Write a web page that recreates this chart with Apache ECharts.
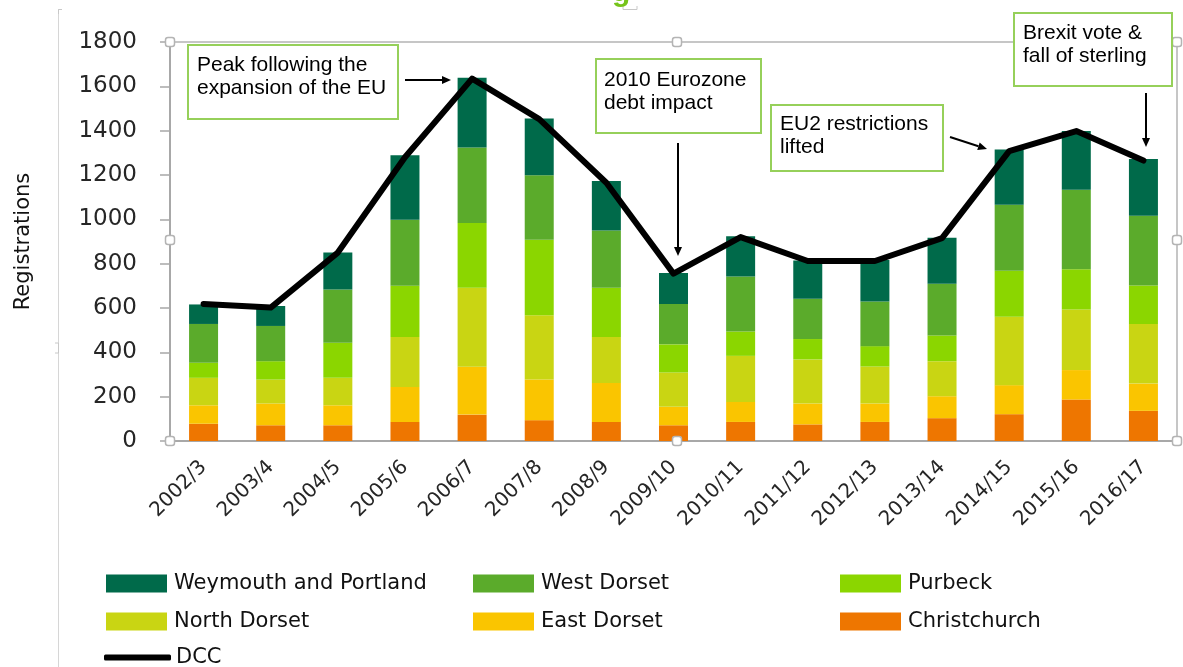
<!DOCTYPE html>
<html>
<head>
<meta charset="utf-8">
<script src="https://cdn.jsdelivr.net/npm/echarts@6/dist/echarts.min.js"></script>
<style>html,body{margin:0;padding:0;background:#fff;}#c{width:1183px;height:667px;}</style>
</head>
<body>
<div id="c"></div>
<script>
const categories = ['2002/3','2003/4','2004/5','2005/6','2006/7','2007/8','2008/9','2009/10','2010/11','2011/12','2012/13','2013/14','2014/15','2015/16','2016/17'];
const christchurch = [78, 71, 71, 86, 119, 94, 86, 71, 86, 75, 86, 103, 121, 187, 136];
const eastDorset   = [83, 98, 90, 158, 216, 183, 176, 83, 90, 94, 83, 99, 131, 133, 123];
const northDorset  = [124, 108, 124, 225, 356, 290, 207, 155, 208, 199, 167, 158, 308, 273, 269];
const purbeck      = [68, 83, 158, 231, 292, 341, 222, 127, 110, 92, 92, 116, 208, 182, 173];
const westDorset   = [175, 159, 241, 298, 341, 291, 259, 182, 248, 182, 201, 233, 298, 359, 315];
const weymouth     = [88, 90, 166, 291, 315, 256, 223, 140, 182, 172, 187, 208, 249, 265, 256];
const dcc          = [618, 602, 850, 1280, 1635, 1452, 1165, 755, 920, 812, 812, 915, 1308, 1398, 1265];
const yTicks = {min: 0, max: 1800, interval: 200};

const notes = [
  {lines: ['Peak following the', 'expansion of the EU']},
  {lines: ['2010 Eurozone', 'debt impact']},
  {lines: ['EU2 restrictions', 'lifted']},
  {lines: ['Brexit vote &', 'fall of sterling']}
];

const colors = {
  weymouth: '#006a4a', west: '#5bab2b', purbeck: '#8bd600',
  north: '#c9d513', east: '#fac500', christ: '#ee7600'
};

const chart = echarts.init(document.getElementById('c'), null, {renderer: 'canvas'});

const barBase = {type: 'bar', stack: 'total', barWidth: 29, emphasis: {disabled: true}};
const legText = {fontFamily: 'DejaVu Sans', fontSize: 21, color: '#111', padding: [0, 0, 0, 2]};

// annotation layout (boxes + arrows)
const boxLayout = [
  {x: 188, y: 45, w: 210, h: 74, tx: 197, ty: 54, a: [405, 80, 451, 80]},
  {x: 596, y: 59, w: 165, h: 74, tx: 604, ty: 69, a: [678, 143, 678, 256]},
  {x: 771, y: 105, w: 172, h: 66, tx: 780, ty: 113, a: [950, 137, 987, 149]},
  {x: 1014, y: 13, w: 158, h: 73, tx: 1023, ty: 22, a: [1146, 93, 1146, 147]}
];

function arrow(x1, y1, x2, y2) {
  const ang = Math.atan2(y2 - y1, x2 - x1);
  const L = 9, W = 4;
  const bx = x2 - L * Math.cos(ang), by = y2 - L * Math.sin(ang);
  const px = -Math.sin(ang) * W, py = Math.cos(ang) * W;
  return [
    {type: 'line', shape: {x1: x1, y1: y1, x2: bx, y2: by}, style: {stroke: '#000', lineWidth: 2}, z: 100},
    {type: 'polygon', shape: {points: [[x2, y2], [bx + px, by + py], [bx - px, by - py]]}, style: {fill: '#000'}, z: 100}
  ];
}

const graphics = [];
// chart area frame remnants
graphics.push({type: 'line', shape: {x1: 58.5, y1: 9, x2: 58.5, y2: 667}, style: {stroke: '#d6d6d6', lineWidth: 1}, z: 1});
graphics.push({type: 'polyline', shape: {points: [[62, 9.5], [58.5, 9.5], [58.5, 14]]}, style: {stroke: '#c8c8c8', lineWidth: 1, fill: null}, z: 1});
graphics.push({type: 'polyline', shape: {points: [[623, 6], [623, 9.5], [637, 9.5], [637, 6]]}, style: {stroke: '#c8c8c8', lineWidth: 1, fill: null}, z: 1});
graphics.push({type: 'polyline', shape: {points: [[55, 343], [58.5, 343], [58.5, 353], [55, 353]]}, style: {stroke: '#c8c8c8', lineWidth: 1, fill: null}, z: 1});
// cut-off title remnant (only the descender is inside the picture)
graphics.push({type: 'text', x: 612, y: 8, style: {text: 'g', fontFamily: 'Liberation Sans', fontWeight: 'bold', fontSize: 30, fill: '#76c41a', textVerticalAlign: 'bottom'}, z: 1});

// plot-area selection handles
[[170, 42], [677, 42], [1177, 42], [170, 240], [1177, 240], [170, 441], [677, 441], [1177, 441]].forEach(p => {
  graphics.push({type: 'rect', shape: {x: p[0] - 4.5, y: p[1] - 4.5, width: 9, height: 9, r: 2.5}, style: {fill: '#fff', stroke: '#b4b4b4', lineWidth: 1.5}, z: 90});
});

notes.forEach((n, i) => {
  const b = boxLayout[i];
  graphics.push({type: 'rect', shape: {x: b.x, y: b.y, width: b.w, height: b.h}, style: {fill: '#fff', stroke: '#96d05a', lineWidth: 2}, z: 95});
  graphics.push({type: 'text', x: b.tx, y: b.ty, style: {text: n.lines.join('\n'), fontFamily: 'Liberation Sans', fontSize: 21, lineHeight: 23, fill: '#000'}, z: 96});
  arrow(b.a[0], b.a[1], b.a[2], b.a[3]).forEach(g => graphics.push(g));
});

const legBase = {orient: 'vertical', padding: 0, itemWidth: 61, itemHeight: 18, itemGap: 17, textStyle: legText, selectedMode: false, icon: 'rect'};

const option = {
  animation: false,
  grid: {left: 170, right: 6, top: 42, bottom: 226, show: true, borderColor: '#c6c6c6', borderWidth: 2, backgroundColor: 'transparent'},
  xAxis: {
    type: 'category', data: categories,
    axisLine: {lineStyle: {color: '#a8a8a8', width: 2}},
    axisTick: {length: 8, lineStyle: {color: '#a8a8a8', width: 1.5}},
    axisLabel: {rotate: 45, margin: 23, fontFamily: 'DejaVu Sans', fontSize: 20, color: '#262626', interval: 0}
  },
  yAxis: {
    type: 'value', min: yTicks.min, max: yTicks.max, interval: yTicks.interval,
    name: 'Registrations', nameLocation: 'middle', nameGap: 136,
    nameTextStyle: {fontFamily: 'DejaVu Sans', fontSize: 21, color: '#111'},
    axisLine: {show: true, lineStyle: {color: '#a8a8a8', width: 2}},
    axisTick: {show: true, length: 10, lineStyle: {color: '#a8a8a8', width: 1.5}},
    splitLine: {show: false},
    axisLabel: {margin: 33, fontFamily: 'DejaVu Sans', fontSize: 23, color: '#262626', formatter: v => String(v)}
  },
  legend: [
    Object.assign({left: 106, top: 573, data: ['Weymouth and Portland', 'North Dorset']}, legBase),
    Object.assign({left: 473, top: 573, data: ['West Dorset', 'East Dorset']}, legBase),
    Object.assign({left: 840, top: 573, data: ['Purbeck', 'Christchurch']}, legBase),
    {left: 104, top: 647, padding: 0, itemWidth: 67, itemHeight: 6, textStyle: {fontFamily: 'DejaVu Sans', fontSize: 21, color: '#111', padding: [0, 0, 0, 0]}, data: [{name: 'DCC', icon: 'roundRect'}], selectedMode: false}
  ],
  series: [
    Object.assign({name: 'Christchurch', data: christchurch, itemStyle: {color: colors.christ}}, barBase),
    Object.assign({name: 'East Dorset', data: eastDorset, itemStyle: {color: colors.east}}, barBase),
    Object.assign({name: 'North Dorset', data: northDorset, itemStyle: {color: colors.north}}, barBase),
    Object.assign({name: 'Purbeck', data: purbeck, itemStyle: {color: colors.purbeck}}, barBase),
    Object.assign({name: 'West Dorset', data: westDorset, itemStyle: {color: colors.west}}, barBase),
    Object.assign({name: 'Weymouth and Portland', data: weymouth, itemStyle: {color: colors.weymouth}}, barBase),
    {name: 'DCC', type: 'line', data: dcc, symbol: 'none', color: '#000', itemStyle: {color: '#000'},
     lineStyle: {color: '#000', width: 6, cap: 'round', join: 'round'}, z: 10, emphasis: {disabled: true}}
  ],
  graphic: graphics
};
chart.setOption(option);
</script>
</body>
</html>
